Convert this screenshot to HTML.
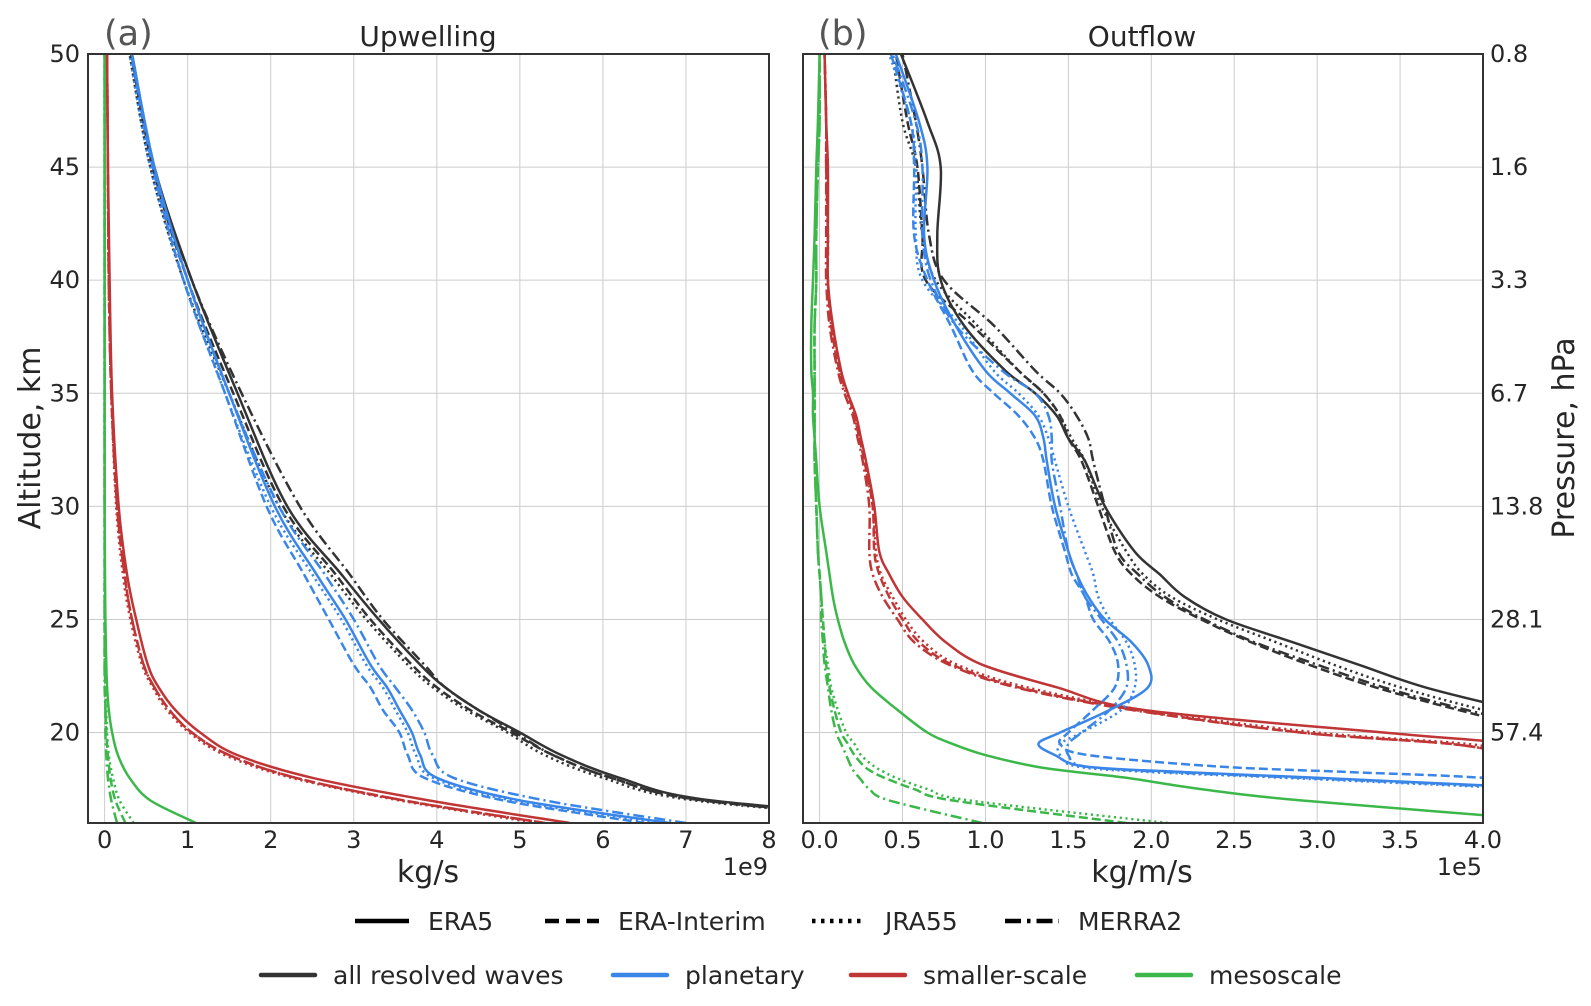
<!DOCTYPE html>
<html><head><meta charset="utf-8"><style>
body{margin:0;background:#fff;}
svg{display:block;font-family:"DejaVu Sans","Liberation Sans",sans-serif;}
</style></head><body>
<svg id="fig" width="1591" height="1006" viewBox="0 0 1591 1006"></svg>
<script>
// ---- data ----
const altA = [16,17,18,19,20,21,22,23,25,27,30,35,40,45,50];
const upAllERA5  = [10.5,7.3,6.2,5.5,5.0,4.5,4.1,3.8,3.3,2.85,2.2,1.6,1.05,0.6,0.33];
const upAllERAI  = [10.3,7.2,6.1,5.4,4.9,4.4,4.0,3.7,3.2,2.78,2.15,1.55,1.0,0.58,0.32];
const upAllJRA   = [10.2,7.1,6.0,5.3,4.85,4.35,3.95,3.65,3.15,2.72,2.1,1.5,0.95,0.55,0.3];
const upAllMERRA = [10.2,7.2,6.1,5.4,4.95,4.5,4.1,3.85,3.35,2.95,2.35,1.65,1.05,0.6,0.33];
const upPlERA5  = [6.8,5.0,4.0,3.8,3.7,3.55,3.4,3.2,2.9,2.55,2.05,1.5,1.0,0.6,0.33];
const upPlERAI  = [6.5,4.8,3.85,3.65,3.55,3.35,3.2,3.0,2.7,2.4,1.95,1.45,0.95,0.58,0.32];
const upPlJRA   = [6.7,4.9,3.95,3.75,3.65,3.5,3.35,3.15,2.85,2.5,2.0,1.45,0.95,0.55,0.3];
const upPlMERRA = [7.0,5.3,4.2,3.95,3.85,3.7,3.5,3.3,3.0,2.65,2.1,1.5,1.0,0.6,0.33];
const upSmERA5  = [5.6,3.9,2.5,1.6,1.15,0.85,0.65,0.52,0.38,0.27,0.17,0.09,0.06,0.04,0.03];
const upSmERAI  = [5.3,3.6,2.3,1.5,1.05,0.78,0.6,0.47,0.33,0.24,0.15,0.08,0.05,0.04,0.03];
const upSmJRA   = [5.2,3.55,2.25,1.45,1.02,0.75,0.58,0.45,0.31,0.22,0.14,0.08,0.05,0.04,0.03];
const upSmMERRA = [5.3,3.6,2.3,1.5,1.05,0.78,0.6,0.47,0.33,0.24,0.15,0.08,0.05,0.04,0.03];
const upMeERA5  = [1.1,0.55,0.3,0.16,0.09,0.05,0.03,0.02,0.01,0.005,0,0,0,0,0];
const upMeERAI  = [0.25,0.13,0.07,0.04,0.02,0.01,0.01,0,0,0,0,0,0,0,0];
const upMeJRA   = [0.35,0.18,0.1,0.05,0.03,0.02,0.01,0.01,0,0,0,0,0,0,0];
const upMeMERRA = [0.15,0.08,0.04,0.02,0.01,0.01,0,0,0,0,0,0,0,0,0];

const altB = [16,17,17.5,18,18.25,18.5,19,19.5,20,21,22,23,24,25,26,27,28,30,32,33,34,35,36,38,40,42,45,47,50];
const outAllERA5  = [8,7,6.5,6.1,5.9,5.7,5.4,5.1,4.8,4.2,3.65,3.25,2.85,2.45,2.2,2.05,1.9,1.72,1.6,1.5,1.43,1.3,1.12,0.87,0.73,0.71,0.73,0.65,0.49];
const outAllERAI  = [7.6,6.6,6.1,5.7,5.5,5.3,5.0,4.7,4.4,3.85,3.35,2.95,2.6,2.3,2.05,1.88,1.78,1.68,1.58,1.5,1.45,1.35,1.2,0.92,0.64,0.62,0.59,0.53,0.46];
const outAllJRA   = [7.8,6.8,6.3,5.9,5.7,5.5,5.2,4.9,4.6,4.0,3.5,3.1,2.75,2.4,2.12,1.95,1.85,1.7,1.6,1.52,1.45,1.35,1.2,0.95,0.7,0.62,0.58,0.5,0.44];
const outAllMERRA = [7.7,6.7,6.2,5.8,5.6,5.4,5.1,4.8,4.5,3.9,3.4,3.0,2.62,2.32,2.08,1.92,1.8,1.72,1.65,1.62,1.55,1.45,1.3,1.05,0.75,0.66,0.62,0.58,0.5];
const outPlERA5  = [8,6,4.5,3.0,2.2,1.6,1.42,1.32,1.45,1.75,1.98,1.98,1.88,1.72,1.62,1.55,1.5,1.42,1.37,1.35,1.3,1.15,1.0,0.82,0.69,0.63,0.65,0.6,0.46];
const outPlERAI  = [7,5.5,4.8,4.0,3.2,2.4,1.62,1.45,1.5,1.65,1.78,1.8,1.75,1.65,1.6,1.52,1.48,1.4,1.35,1.3,1.2,1.05,0.92,0.79,0.65,0.57,0.57,0.55,0.43];
const outPlJRA   = [7.5,5.8,4.3,2.8,2.0,1.55,1.45,1.45,1.58,1.82,1.9,1.9,1.85,1.75,1.68,1.65,1.6,1.5,1.42,1.38,1.32,1.2,1.05,0.85,0.62,0.58,0.58,0.55,0.42];
const outPlMERRA = [7.5,5.8,4.4,2.9,2.1,1.6,1.5,1.5,1.58,1.75,1.85,1.85,1.8,1.7,1.6,1.55,1.5,1.45,1.4,1.4,1.38,1.3,1.1,0.82,0.67,0.62,0.62,0.58,0.44];
const outSmERA5  = [8.5,6.5,6.0,5.5,5.2,5.0,4.6,4.2,3.4,1.95,1.43,0.98,0.76,0.62,0.5,0.42,0.36,0.33,0.28,0.25,0.22,0.17,0.13,0.08,0.05,0.05,0.05,0.04,0.03];
const outSmERAI  = [8,6.2,5.7,5.2,4.9,4.6,4.2,3.8,2.9,1.9,1.2,0.8,0.6,0.5,0.42,0.36,0.33,0.32,0.27,0.24,0.21,0.17,0.12,0.07,0.05,0.05,0.04,0.04,0.03];
const outSmJRA   = [8.2,6.3,5.8,5.3,5.0,4.7,4.3,3.9,3.0,1.95,1.25,0.83,0.63,0.52,0.44,0.37,0.34,0.32,0.27,0.24,0.21,0.16,0.12,0.07,0.05,0.05,0.04,0.04,0.03];
const outSmMERRA = [8,6.2,5.7,5.2,4.9,4.6,4.2,3.8,2.9,1.88,1.18,0.78,0.57,0.47,0.38,0.32,0.3,0.3,0.26,0.23,0.2,0.15,0.11,0.06,0.04,0.04,0.04,0.04,0.03];
const outMeERA5  = [4.6,2.9,2.3,1.85,1.55,1.3,1.0,0.8,0.65,0.47,0.31,0.21,0.15,0.11,0.08,0.06,0.04,0.0,-0.02,-0.03,-0.04,-0.04,-0.05,-0.05,-0.04,-0.03,-0.02,-0.01,0.0];
const outMeERAI  = [1.85,0.8,0.57,0.39,0.32,0.27,0.21,0.17,0.13,0.09,0.06,0.04,0.03,0.02,0.01,0,-0.01,-0.02,-0.03,-0.03,-0.03,-0.03,-0.03,-0.03,-0.02,-0.02,-0.01,0,0];
const outMeJRA   = [2.1,0.9,0.65,0.46,0.39,0.33,0.25,0.21,0.16,0.11,0.07,0.05,0.03,0.02,0.01,0,-0.01,-0.02,-0.03,-0.03,-0.03,-0.03,-0.03,-0.03,-0.02,-0.02,-0.01,0,0];
const outMeMERRA = [0.98,0.42,0.3,0.24,0.21,0.19,0.16,0.13,0.1,0.07,0.05,0.03,0.02,0.01,0.01,0,-0.01,-0.02,-0.03,-0.03,-0.03,-0.03,-0.03,-0.03,-0.02,-0.02,-0.01,0,0];

const altTicks = [20,25,30,35,40,45,50];
const xTicksA = [0,1,2,3,4,5,6,7,8];
const xTickLabelsA = ["0","1","2","3","4","5","6","7","8"];
const xTicksB = [0,0.5,1,1.5,2,2.5,3,3.5,4];
const xTickLabelsB = ["0.0","0.5","1.0","1.5","2.0","2.5","3.0","3.5","4.0"];
const pressLabels = ["57.4","28.1","13.8","6.7","3.3","1.6","0.8"];

// ---- layout ----
const NS="http://www.w3.org/2000/svg";
const svg=document.getElementById('fig');
function el(tag,attrs,parent){const e=document.createElementNS(NS,tag);for(const k in attrs)e.setAttribute(k,attrs[k]);(parent||svg).appendChild(e);return e;}
const COL={all:"#333333",pl:"#3a86e8",sm:"#c03535",me:"#3cb84a"};
const DASH={ERA5:"none",ERAI:"9,4",JRA:"2.2,3.6",MERRA:"11,4,2.2,4"};
const T={top:54,bottom:823};
const panelA={left:88,right:769,x0:-0.2,x1:8.0,name:"upwelling"};
const panelB={left:803,right:1483,x0:-0.1,x1:4.0,name:"outflow"};
const Y0=16,Y1=50;
function yS(a){return T.bottom-(a-Y0)/(Y1-Y0)*(T.bottom-T.top);}
function xS(p,v){return p.left+(v-p.x0)/(p.x1-p.x0)*(p.right-p.left);}

function drawPanel(p,xt,xl,clipId){
  const g=el('g',{});
  
  
  const cp=el('clipPath',{id:clipId},g);
  el('rect',{x:p.left,y:T.top,width:p.right-p.left,height:T.bottom-T.top},cp);
  xt.forEach((v,i)=>{
    const x=xS(p,v);
    const l=el('line',{x1:x,x2:x,y1:T.top,y2:T.bottom,stroke:"#cccccc","stroke-width":1},g);
    
    
    const t=el('text',{x:x,y:T.bottom+25,"text-anchor":"middle","font-size":24,fill:"#262626"},g);
    t.textContent=xl[i];
    
    
  });
  altTicks.forEach(a=>{
    const y=yS(a);
    const l=el('line',{x1:p.left,x2:p.right,y1:y,y2:y,stroke:"#cccccc","stroke-width":1},g);
    
    
  });
  return el('g',{"clip-path":"url(#"+clipId+")"},g);
}
function smoothPath(pts){
  let d="M"+pts[0][0].toFixed(1)+","+pts[0][1].toFixed(1);
  for(let i=0;i<pts.length-1;i++){
    const p0=pts[i-1]||pts[i],p1=pts[i],p2=pts[i+1],p3=pts[i+2]||p2;
    const c1=[p1[0]+(p2[0]-p0[0])/6,p1[1]+(p2[1]-p0[1])/6];
    const c2=[p2[0]-(p3[0]-p1[0])/6,p2[1]-(p3[1]-p1[1])/6];
    d+="C"+c1[0].toFixed(1)+","+c1[1].toFixed(1)+" "+c2[0].toFixed(1)+","+c2[1].toFixed(1)+" "+p2[0].toFixed(1)+","+p2[1].toFixed(1);
  }
  return d;
}
function curve(g,p,alts,vals,wave,ds,name){
  const pts=alts.map((a,i)=>[xS(p,vals[i]),yS(a)]);
  const c=el('path',{d:smoothPath(pts),fill:"none",stroke:COL[wave],"stroke-width":2.5,"stroke-dasharray":DASH[ds],"stroke-linejoin":"round"},g);
  
  
}
const gA=drawPanel(panelA,xTicksA,xTickLabelsA,"clipA");
const gB=drawPanel(panelB,xTicksB,xTickLabelsB,"clipB");
const seriesA=[["me","ERA5",upMeERA5],["me","ERAI",upMeERAI],["me","JRA",upMeJRA],["me","MERRA",upMeMERRA],
 ["sm","ERA5",upSmERA5],["sm","ERAI",upSmERAI],["sm","JRA",upSmJRA],["sm","MERRA",upSmMERRA],
 ["all","ERA5",upAllERA5],["all","ERAI",upAllERAI],["all","JRA",upAllJRA],["all","MERRA",upAllMERRA],
 ["pl","ERA5",upPlERA5],["pl","ERAI",upPlERAI],["pl","JRA",upPlJRA],["pl","MERRA",upPlMERRA]];
seriesA.forEach(s=>curve(gA,panelA,altA,s[2],s[0],s[1],"upwelling-"+s[0]+"-"+s[1].toLowerCase()));
const seriesB=[["me","ERA5",outMeERA5],["me","ERAI",outMeERAI],["me","JRA",outMeJRA],["me","MERRA",outMeMERRA],
 ["sm","ERA5",outSmERA5],["sm","ERAI",outSmERAI],["sm","JRA",outSmJRA],["sm","MERRA",outSmMERRA],
 ["all","ERA5",outAllERA5],["all","ERAI",outAllERAI],["all","JRA",outAllJRA],["all","MERRA",outAllMERRA],
 ["pl","ERA5",outPlERA5],["pl","ERAI",outPlERAI],["pl","JRA",outPlJRA],["pl","MERRA",outPlMERRA]];
seriesB.forEach(s=>curve(gB,panelB,altB,s[2],s[0],s[1],"outflow-"+s[0]+"-"+s[1].toLowerCase()));

[panelA,panelB].forEach(p=>{
  const r=el('rect',{x:p.left,y:T.top,width:p.right-p.left,height:T.bottom-T.top,fill:"none",stroke:"#333","stroke-width":2});
  
  
});
altTicks.forEach(a=>{
  const t=el('text',{x:80,y:yS(a)+8,"text-anchor":"end","font-size":24,fill:"#262626"});
  t.textContent=String(a);
  
  
});
altTicks.forEach((a,i)=>{
  const t=el('text',{x:1490,y:yS(a)+8,"text-anchor":"start","font-size":24,fill:"#262626"});
  t.textContent=pressLabels[i];
  
  
});
function txt(x,y,s,size,name,extra){const t=el('text',Object.assign({x:x,y:y,"font-size":size,fill:"#262626"},extra||{}));t.textContent=s;return t;}
txt(428,46,"Upwelling",28,"upwelling-title",{"text-anchor":"middle"});
txt(1142,46,"Outflow",28,"outflow-title",{"text-anchor":"middle"});
txt(104,45,"(a)",35,"panel-a-label",{fill:"#555"});
txt(818,45,"(b)",35,"panel-b-label",{fill:"#555"});
txt(428,882,"kg/s",30,"x-axis-title-a",{"text-anchor":"middle"});
txt(1142,882,"kg/m/s",30,"x-axis-title-b",{"text-anchor":"middle"});
txt(768,875,"1e9",24,"x-offset-a",{"text-anchor":"end"});
txt(1482,875,"1e5",24,"x-offset-b",{"text-anchor":"end"});
txt(40,438,"Altitude, km",30,"y-axis-title",{"text-anchor":"middle",transform:"rotate(-90 40 438)"});
txt(1574,438,"Pressure, hPa",30,"y2-axis-title",{"text-anchor":"middle",transform:"rotate(-90 1574 438)"});

const legDs=[["ERA5","none",355],["ERA-Interim","DASHI",545],["JRA55","DASHJ",812],["MERRA2","DASHM",1005]];
const dsDash={none:"none",DASHI:"14,7",DASHJ:"3.5,5.5",DASHM:"16,6,3.5,6"};
legDs.forEach(d=>{
  const g=el('g',{});
  
  
  el('line',{x1:d[2],x2:d[2]+54,y1:921,y2:921,stroke:"#000","stroke-width":4.5,"stroke-dasharray":dsDash[d[1]]},g);
  const t=el('text',{x:d[2]+73,y:930,"font-size":25,fill:"#262626"},g);t.textContent=d[0];
});
const legW=[["all resolved waves",COL.all,261],["planetary",COL.pl,613],["smaller-scale",COL.sm,851],["mesoscale",COL.me,1137]];
legW.forEach(d=>{
  const g=el('g',{});
  
  
  el('line',{x1:d[2],x2:d[2]+54,y1:975,y2:975,stroke:d[1],"stroke-width":4.5,"stroke-linecap":"round"},g);
  const t=el('text',{x:d[2]+72,y:984,"font-size":25,fill:"#262626"},g);t.textContent=d[0];
});
</script>
</body></html>
